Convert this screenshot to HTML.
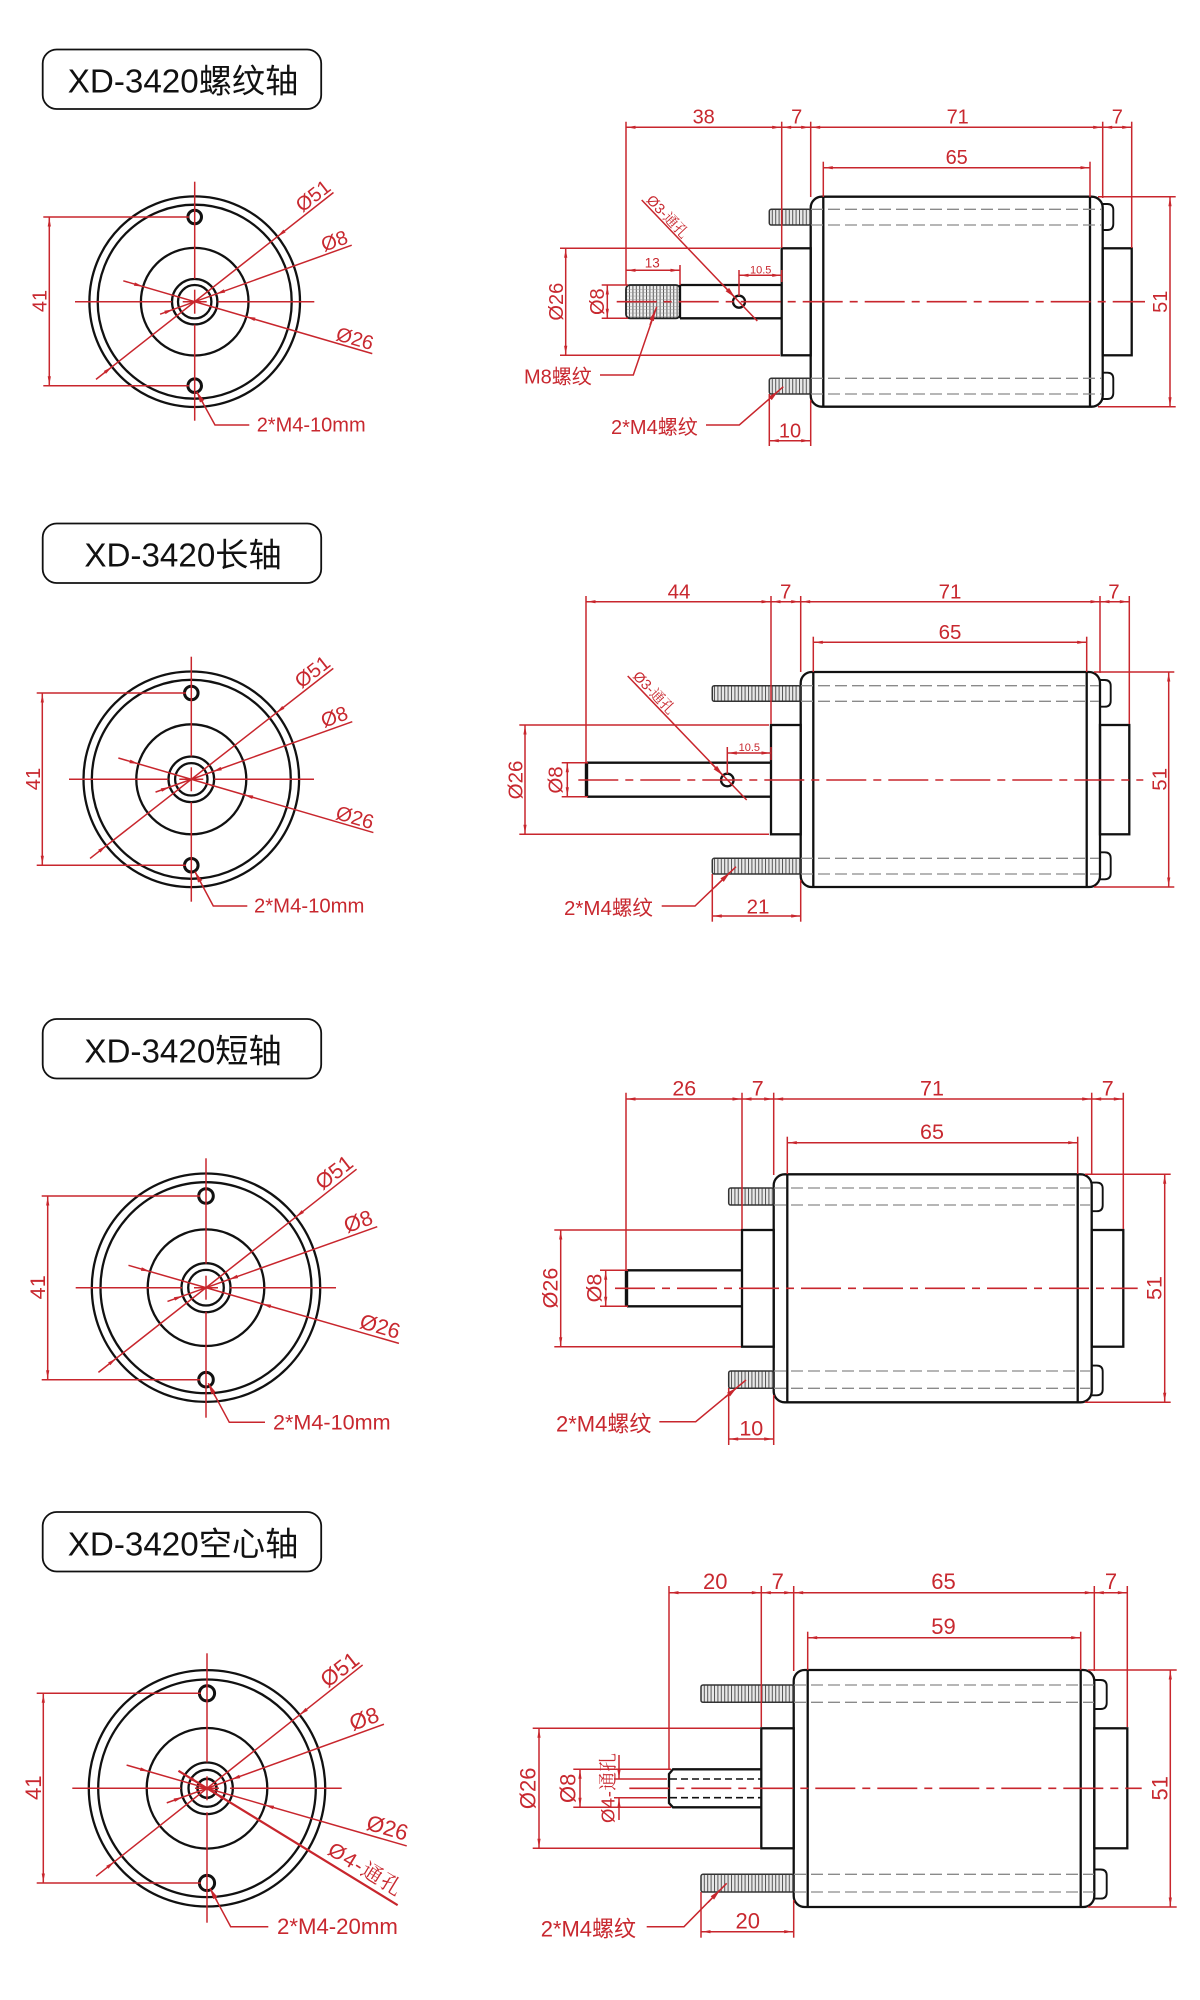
<!DOCTYPE html>
<html><head><meta charset="utf-8"><style>
html,body{margin:0;padding:0;background:#fff}
svg{display:block}
text{font-family:"Liberation Sans","Noto Sans CJK SC",sans-serif;fill:#c8282f;text-anchor:middle;stroke:none}
.h{fill:#111;font-size:33.2px}
.s{text-anchor:start}
.n{font-family:"Liberation Sans","Noto Serif CJK SC",serif}
.r line,.r polyline,line.r,polyline.r{stroke:#c8262d;stroke-width:1.5;fill:none}
.d{marker-start:url(#a);marker-end:url(#a)}
line.e{marker-end:url(#a)}
line.b{marker-end:url(#b)}
.c{stroke:#c8262d;stroke-width:1.6;fill:none;stroke-dasharray:40 7 8 7}
.k{stroke:#111;stroke-width:2.3;fill:none}
.g{stroke:#8a8a8a;stroke-width:1.3;stroke-dasharray:12 5;fill:none}
.th{fill:url(#t);stroke:#333;stroke-width:1.5}
.tx{fill:url(#x);stroke:#222;stroke-width:1.8}
.ah{fill:#c8262d;stroke:none}
.box{fill:#fff;stroke:#111;stroke-width:1.8}
</style></head><body>
<svg xmlns="http://www.w3.org/2000/svg" width="1200" height="2000" viewBox="0 0 1200 2000">
<defs>
<marker id="a" markerUnits="userSpaceOnUse" markerWidth="12" markerHeight="6" viewBox="0 0 12 6" refX="11" refY="3" orient="auto-start-reverse"><path d="M2,1.4L11,3L2,4.6z" fill="#c8262d"/></marker>
<marker id="b" markerUnits="userSpaceOnUse" markerWidth="14" markerHeight="8" viewBox="0 0 14 8" refX="13" refY="4" orient="auto"><path d="M2,1.6L13,4L2,6.4z" fill="#c8262d"/></marker>
<pattern id="t" patternUnits="userSpaceOnUse" width="3.4" height="4"><rect width="3.4" height="4" fill="#e8e8e8"/><rect width="1" height="4" fill="#555"/></pattern>
<pattern id="x" patternUnits="userSpaceOnUse" width="3.4" height="3.4"><rect width="3.4" height="3.4" fill="#f0f0f0"/><rect width="1" height="3.4" fill="#555"/><rect width="3.4" height=".5" fill="#999"/></pattern>
</defs>

<!-- titles -->
<rect class="box" x="42.7" y="49.5" width="278.5" height="59.5" rx="14"/><text class="h" x="183" y="92.7">XD-3420螺纹轴</text>
<rect class="box" x="42.7" y="523.5" width="278.5" height="59.5" rx="14"/><text class="h" x="183" y="566.7">XD-3420长轴</text>
<rect class="box" x="42.7" y="1019" width="278.5" height="59.5" rx="14"/><text class="h" x="183" y="1062.5">XD-3420短轴</text>
<rect class="box" x="42.7" y="1512" width="278.5" height="59.5" rx="14"/><text class="h" x="183" y="1555.5">XD-3420空心轴</text>

<!-- ========== PANEL 1 FRONT ========== -->
<g font-size="20">
<g class="k" transform="translate(194.7,301.7)"><circle r="105.3"/><circle r="97"/><circle r="53.8"/><circle r="22.7"/><circle r="16.7"/><circle cy="-84.7" r="6.8" stroke-width="3"/><circle cy="84" r="6.8" stroke-width="3"/></g>
<g class="r" transform="translate(194.7,301.7)">
<line y1="-120" y2="-23"/><line y1="-12" y2="12"/><line y1="23" y2="119"/>
<line x1="-119.7" x2="-23"/><line x1="-12" x2="12"/><line x1="23" x2="119.6"/>
<g transform="rotate(-38.2)"><line x1="-125.6" x2="176.6"/><path class="ah" d="M105.3,0l9,-1.8v3.6zM-105.3,0l-9,-1.8v3.6z"/></g>
<g transform="rotate(-19.8)"><line x1="-36.8" x2="166.9"/><path class="ah" d="M22.7,0l9,-1.8v3.6zM-22.7,0l-9,-1.8v3.6z"/></g>
<g transform="rotate(16.3)"><line x1="-74.4" x2="185"/><path class="ah" d="M53.8,0l9,-1.8v3.6zM-53.8,0l-9,-1.8v3.6z"/></g>
</g>
<g class="r"><line x1="43.3" y1="217" x2="189" y2="217"/><line x1="43.3" y1="385.7" x2="189" y2="385.7"/><line class="d" x1="49.3" y1="217.5" x2="49.3" y2="385.2"/>
<polyline points="249.3,425 215,425 196.7,391.7"/><line class="b" x1="203" y1="403" x2="196.7" y2="391.7"/></g>
<text transform="translate(46.7,301) rotate(-90)">41</text>
<text transform="translate(313,195.7) rotate(-38)" y="7">Ø51</text>
<text transform="translate(334.3,240.7) rotate(-20)" y="7">Ø8</text>
<text transform="translate(355,338.3) rotate(16)" y="7">Ø26</text>
<text class="s" x="256.7" y="431.7">2*M4-10mm</text>
</g>

<!-- ========== PANEL 1 SIDE ========== -->
<g font-size="20">
<rect class="tx" x="626" y="285" width="54" height="33.3" rx="4"/>
<g class="k">
<rect x="810.7" y="196.7" width="292" height="210" rx="11"/>
<line x1="823.3" y1="196.7" x2="823.3" y2="406.7"/><line x1="1090" y1="196.7" x2="1090" y2="406.7"/>
<rect x="781.7" y="248.3" width="29" height="107"/><rect x="1102.7" y="248.3" width="29" height="107"/>
<path d="M680,285H781.7M680,318.3H781.7M680,285V318.3"/>
<circle cx="739" cy="301.7" r="6"/>
<path stroke-width="1.9" d="M1102.7,204h4.6q6,0 6,6v14q0,6 -6,6h-4.6M1102.7,372.7h4.6q6,0 6,6v14.3q0,6 -6,6h-4.6"/>
</g>
<rect class="th" x="769.3" y="209.3" width="41.4" height="15.7" rx="2"/><rect class="th" x="769.3" y="378.3" width="41.4" height="15.7" rx="2"/>
<path class="g" d="M811,209.3H1102M811,225H1102M811,378.3H1102M811,394H1102"/>
<line class="c" x1="616.7" y1="301.7" x2="1145" y2="301.7"/>
<g class="r">
<line x1="626" y1="121.7" x2="626" y2="285"/><line x1="781.7" y1="121.7" x2="781.7" y2="248"/><line x1="810.7" y1="121.7" x2="810.7" y2="197"/><line x1="1102.7" y1="121.7" x2="1102.7" y2="198"/><line x1="1131.7" y1="121.7" x2="1131.7" y2="248"/>
<line class="d" x1="626.5" y1="127.3" x2="781.2" y2="127.3"/><line class="d" x1="782.2" y1="127.3" x2="810.2" y2="127.3"/><line class="d" x1="811.2" y1="127.3" x2="1102.2" y2="127.3"/><line class="d" x1="1103.2" y1="127.3" x2="1131.2" y2="127.3"/>
<line x1="823.3" y1="161.7" x2="823.3" y2="197"/><line x1="1090" y1="161.7" x2="1090" y2="197"/><line class="d" x1="823.8" y1="167.7" x2="1089.5" y2="167.7"/>
<line x1="560" y1="248.3" x2="780" y2="248.3"/><line x1="560" y1="355.3" x2="780" y2="355.3"/><line class="d" x1="565.7" y1="248.8" x2="565.7" y2="354.8"/>
<line x1="601.7" y1="285" x2="628" y2="285"/><line x1="601.7" y1="318.3" x2="628" y2="318.3"/><line class="d" x1="607.3" y1="285.5" x2="607.3" y2="317.8"/>
<line x1="680" y1="265" x2="680" y2="285"/><line class="d" x1="626.5" y1="270.3" x2="679.5" y2="270.3"/>
<line x1="739" y1="270" x2="739" y2="296"/><line x1="781.7" y1="270" x2="781.7" y2="282"/><line class="d" x1="739.5" y1="275.3" x2="781.2" y2="275.3"/>
<line x1="641.7" y1="200" x2="757.3" y2="321"/><line class="b" x1="722" y1="284" x2="735" y2="297.5"/>
<polyline points="600,375 633.3,375 656.7,306.7"/><line class="b" x1="650" y1="325" x2="655.3" y2="310"/>
<polyline points="706,425 739.3,425 783.3,386.7"/><line class="b" x1="770" y1="398.5" x2="778.3" y2="391"/>
<line x1="769.3" y1="394" x2="769.3" y2="446"/><line x1="810.7" y1="400" x2="810.7" y2="446"/><line class="d" x1="769.8" y1="440.7" x2="810.2" y2="440.7"/>
<line x1="1098" y1="196.7" x2="1175.7" y2="196.7"/><line x1="1098" y1="406.7" x2="1175.7" y2="406.7"/><line class="d" x1="1170" y1="197.2" x2="1170" y2="406.2"/>
</g>
<text x="703.7" y="123.3">38</text><text x="796.7" y="123.3">7</text><text x="957.7" y="123.3">71</text><text x="1117.3" y="123.3">7</text><text x="956.7" y="164">65</text>
<text transform="translate(563,301.7) rotate(-90)">Ø26</text><text transform="translate(604,301.7) rotate(-90)">Ø8</text>
<text x="652.3" y="267.3" font-size="13.5">13</text><text x="760.7" y="273.3" font-size="11">10.5</text>
<text class="n" transform="translate(664,220) rotate(46.3)" font-size="14.5">Ø3-通孔</text>
<text class="s" x="524" y="383.3">M8螺纹</text><text class="s" x="611" y="434">2*M4螺纹</text>
<text x="790" y="437.3">10</text><text transform="translate(1167,301.7) rotate(-90)">51</text>
</g>

<!-- ========== PANEL 2 FRONT ========== -->
<g font-size="20.3">
<g class="k" transform="translate(191.3,779.3)"><circle r="107.8"/><circle r="99.5"/><circle r="55"/><circle r="22.8"/><circle r="16.2"/><circle cy="-86.3" r="6.8" stroke-width="3"/><circle cy="86" r="6.8" stroke-width="3"/></g>
<g class="r" transform="translate(191.3,779.3)">
<line y1="-122.6" y2="-23"/><line y1="-12" y2="12"/><line y1="23" y2="122.4"/>
<line x1="-122.3" x2="-23"/><line x1="-12" x2="12"/><line x1="23" x2="122.7"/>
<g transform="rotate(-38)"><line x1="-128.5" x2="180.2"/><path class="ah" d="M107.8,0l9,-1.8v3.6zM-107.8,0l-9,-1.8v3.6z"/></g>
<g transform="rotate(-19.7)"><line x1="-38" x2="171"/><path class="ah" d="M22.8,0l9,-1.8v3.6zM-22.8,0l-9,-1.8v3.6z"/></g>
<g transform="rotate(16.3)"><line x1="-76" x2="189.7"/><path class="ah" d="M55,0l9,-1.8v3.6zM-55,0l-9,-1.8v3.6z"/></g>
</g>
<g class="r"><line x1="36.7" y1="693" x2="186" y2="693"/><line x1="36.7" y1="865.3" x2="186" y2="865.3"/><line class="d" x1="42.3" y1="693.5" x2="42.3" y2="864.8"/>
<polyline points="247.3,906 213.3,906 195,871.7"/><line class="b" x1="201" y1="883" x2="195" y2="871.7"/></g>
<text transform="translate(40,779) rotate(-90)">41</text>
<text transform="translate(312.3,671.7) rotate(-38)" y="7">Ø51</text>
<text transform="translate(334.3,716.7) rotate(-20)" y="7">Ø8</text>
<text transform="translate(355,817.3) rotate(16)" y="7">Ø26</text>
<text class="s" x="254" y="912.7">2*M4-10mm</text>
</g>

<!-- ========== PANEL 2 SIDE ========== -->
<g font-size="20.5">
<g class="k">
<rect x="800.7" y="672" width="299.3" height="215" rx="11"/>
<line x1="813.3" y1="672" x2="813.3" y2="887"/><line x1="1086.7" y1="672" x2="1086.7" y2="887"/>
<rect x="771" y="725" width="29.7" height="109.3"/><rect x="1100" y="725" width="29.3" height="109.3"/>
<path d="M587,762.7H771M587,796.7H771"/><line x1="586.5" y1="762" x2="586.5" y2="797.4" stroke-width="3.4"/>
<circle cx="727.3" cy="780" r="6.3"/>
<path stroke-width="1.9" d="M1100,680h4.7q6,0 6,6v14.7q0,6 -6,6h-4.7M1100,852.3h4.7q6,0 6,6v15q0,6 -6,6h-4.7"/>
</g>
<rect class="th" x="712.3" y="685.7" width="88.4" height="15.6" rx="2"/><rect class="th" x="712.3" y="858.3" width="88.4" height="15.7" rx="2"/>
<path class="g" d="M801,685.7H1099M801,701.3H1099M801,858.3H1099M801,874H1099"/>
<line class="c" x1="578.3" y1="780" x2="1143.3" y2="780"/>
<g class="r">
<line x1="586" y1="596" x2="586" y2="763"/><line x1="771" y1="596" x2="771" y2="724"/><line x1="800.7" y1="596" x2="800.7" y2="672"/><line x1="1100" y1="596" x2="1100" y2="673"/><line x1="1129.3" y1="596" x2="1129.3" y2="724"/>
<line class="d" x1="586.5" y1="601.7" x2="770.5" y2="601.7"/><line class="d" x1="771.5" y1="601.7" x2="800.2" y2="601.7"/><line class="d" x1="801.2" y1="601.7" x2="1099.5" y2="601.7"/><line class="d" x1="1100.5" y1="601.7" x2="1128.8" y2="601.7"/>
<line x1="813.3" y1="636.7" x2="813.3" y2="672"/><line x1="1086.7" y1="636.7" x2="1086.7" y2="672"/><line class="d" x1="813.8" y1="642.3" x2="1086.2" y2="642.3"/>
<line x1="519.3" y1="725" x2="769" y2="725"/><line x1="519.3" y1="834.3" x2="769" y2="834.3"/><line class="d" x1="525" y1="725.5" x2="525" y2="833.8"/>
<line x1="561.7" y1="762.7" x2="588" y2="762.7"/><line x1="561.7" y1="796.7" x2="588" y2="796.7"/><line class="d" x1="567.3" y1="763.2" x2="567.3" y2="796.2"/>
<line x1="727.3" y1="747" x2="727.3" y2="774"/><line x1="771" y1="747" x2="771" y2="760"/><line class="d" x1="727.8" y1="753" x2="770.5" y2="753"/>
<line x1="627.7" y1="676" x2="746.7" y2="800"/><line class="b" x1="710" y1="762" x2="723" y2="775.5"/>
<polyline points="661.7,906 695,906 736,866.7"/><line class="b" x1="715" y1="887" x2="730" y2="872.5"/>
<line x1="712.3" y1="874" x2="712.3" y2="921.7"/><line x1="800.7" y1="880" x2="800.7" y2="921.7"/><line class="d" x1="712.8" y1="916" x2="800.2" y2="916"/>
<line x1="1094" y1="672" x2="1174.3" y2="672"/><line x1="1094" y1="887" x2="1174.3" y2="887"/><line class="d" x1="1168.7" y1="672.5" x2="1168.7" y2="886.5"/>
</g>
<text x="679" y="598.3">44</text><text x="785.7" y="598.3">7</text><text x="950" y="598.3">71</text><text x="1114" y="598.3">7</text><text x="950" y="639">65</text>
<text transform="translate(522.3,780) rotate(-90)">Ø26</text><text transform="translate(562.7,780) rotate(-90)">Ø8</text>
<text x="749.3" y="751" font-size="11">10.5</text>
<text class="n" transform="translate(650.5,696) rotate(46.2)" font-size="14.5">Ø3-通孔</text>
<text class="s" x="564" y="915">2*M4螺纹</text><text x="758" y="913.3">21</text>
<text transform="translate(1166.7,779.3) rotate(-90)">51</text>
</g>

<!-- ========== PANEL 3 FRONT ========== -->
<g font-size="21.6">
<g class="k" transform="translate(206,1287.7)"><circle r="114.2"/><circle r="105.5"/><circle r="58.3"/><circle r="24.5"/><circle r="17.8"/><circle cy="-91.7" r="7.3" stroke-width="3"/><circle cy="92" r="7.3" stroke-width="3"/></g>
<g class="r" transform="translate(206,1287.7)">
<line y1="-129.4" y2="-24"/><line y1="-12" y2="12"/><line y1="24" y2="130"/>
<line x1="-130.3" x2="-24"/><line x1="-12" x2="12"/><line x1="24" x2="130"/>
<g transform="rotate(-38.2)"><line x1="-136.9" x2="191.6"/><path class="ah" d="M114.2,0l9,-1.8v3.6zM-114.2,0l-9,-1.8v3.6z"/></g>
<g transform="rotate(-19.6)"><line x1="-40.9" x2="181.8"/><path class="ah" d="M24.5,0l9,-1.8v3.6zM-24.5,0l-9,-1.8v3.6z"/></g>
<g transform="rotate(16.1)"><line x1="-80.7" x2="200.8"/><path class="ah" d="M58.3,0l9,-1.8v3.6zM-58.3,0l-9,-1.8v3.6z"/></g>
</g>
<g class="r"><line x1="41.7" y1="1196" x2="200" y2="1196"/><line x1="41.7" y1="1379.7" x2="200" y2="1379.7"/><line class="d" x1="47.7" y1="1196.5" x2="47.7" y2="1379.2"/>
<polyline points="265,1422.3 229.3,1422.3 208.3,1383.3"/><line class="b" x1="215" y1="1396" x2="208.3" y2="1383.3"/></g>
<text transform="translate(45,1287.3) rotate(-90)">41</text>
<text transform="translate(334.3,1172.7) rotate(-38)" y="7">Ø51</text>
<text transform="translate(358.3,1221.7) rotate(-20)" y="7">Ø8</text>
<text transform="translate(380,1326.7) rotate(16)" y="7">Ø26</text>
<text class="s" x="273" y="1429.3">2*M4-10mm</text>
</g>

<!-- ========== PANEL 3 SIDE ========== -->
<g font-size="21.5">
<g class="k">
<rect x="773.7" y="1174.3" width="318" height="228" rx="11"/>
<line x1="787.3" y1="1174.3" x2="787.3" y2="1402.3"/><line x1="1077.7" y1="1174.3" x2="1077.7" y2="1402.3"/>
<rect x="742" y="1230" width="31.7" height="116.7"/><rect x="1091.7" y="1230" width="31.6" height="116.7"/>
<path d="M627,1270.3H742M627,1306.3H742"/><line x1="626.5" y1="1269.6" x2="626.5" y2="1307" stroke-width="3.4"/>
<path stroke-width="1.9" d="M1091.7,1182.6h5q6,0 6,6v16.6q0,6 -6,6h-5M1091.7,1365.6h5q6,0 6,6v17.7q0,6 -6,6h-5"/>
</g>
<rect class="th" x="728.7" y="1188" width="45" height="17" rx="2"/><rect class="th" x="728.7" y="1371" width="45" height="17.3" rx="2"/>
<path class="g" d="M774,1188H1091M774,1205H1091M774,1371H1091M774,1388.3H1091"/>
<line class="c" x1="615" y1="1288.3" x2="1137.7" y2="1288.3"/>
<g class="r">
<line x1="626" y1="1092.7" x2="626" y2="1270"/><line x1="742" y1="1092.7" x2="742" y2="1229"/><line x1="773.7" y1="1092.7" x2="773.7" y2="1175"/><line x1="1091.7" y1="1092.7" x2="1091.7" y2="1175"/><line x1="1123.3" y1="1092.7" x2="1123.3" y2="1229"/>
<line class="d" x1="626.5" y1="1099" x2="741.5" y2="1099"/><line class="d" x1="742.5" y1="1099" x2="773.2" y2="1099"/><line class="d" x1="774.2" y1="1099" x2="1091.2" y2="1099"/><line class="d" x1="1092.2" y1="1099" x2="1122.8" y2="1099"/>
<line x1="787.3" y1="1136.7" x2="787.3" y2="1174"/><line x1="1077.7" y1="1136.7" x2="1077.7" y2="1174"/><line class="d" x1="787.8" y1="1142.7" x2="1077.2" y2="1142.7"/>
<line x1="554.3" y1="1230" x2="741" y2="1230"/><line x1="554.3" y1="1346.7" x2="741" y2="1346.7"/><line class="d" x1="560.7" y1="1230.5" x2="560.7" y2="1346.2"/>
<line x1="600" y1="1270.3" x2="628" y2="1270.3"/><line x1="600" y1="1306.3" x2="628" y2="1306.3"/><line class="d" x1="605.7" y1="1270.8" x2="605.7" y2="1305.8"/>
<polyline points="659.3,1421.7 695.7,1421.7 746,1380"/><line class="b" x1="725" y1="1397.5" x2="737" y2="1387.5"/>
<line x1="728.7" y1="1388" x2="728.7" y2="1445"/><line x1="773.7" y1="1395" x2="773.7" y2="1445"/><line class="d" x1="729.2" y1="1439" x2="773.2" y2="1439"/>
<line x1="1085" y1="1174.3" x2="1170.7" y2="1174.3"/><line x1="1085" y1="1402.3" x2="1170.7" y2="1402.3"/><line class="d" x1="1164.7" y1="1174.8" x2="1164.7" y2="1401.8"/>
</g>
<text x="684.3" y="1095.7">26</text><text x="757.7" y="1095.7">7</text><text x="932" y="1095.7">71</text><text x="1107.7" y="1095.7">7</text><text x="932" y="1139">65</text>
<text transform="translate(557.7,1288) rotate(-90)">Ø26</text><text transform="translate(601.7,1288) rotate(-90)">Ø8</text>
<text class="s" x="556" y="1431.7" font-size="22">2*M4螺纹</text><text x="751.3" y="1435.7">10</text>
<text transform="translate(1161.7,1288) rotate(-90)">51</text>
</g>

<!-- ========== PANEL 4 FRONT ========== -->
<g font-size="22.2">
<g class="k" transform="translate(207,1788.3)"><circle r="118.2"/><circle r="108.8"/><circle r="60.3"/><circle r="25.8"/><circle r="18.5"/><circle r="9.5" stroke-width="2.6"/><circle cy="-95" r="7.6" stroke-width="3"/><circle cy="94.7" r="7.6" stroke-width="3"/></g>
<g class="r" transform="translate(207,1788.3)">
<line y1="-135" y2="-26"/><line y1="-12" y2="12"/><line y1="24" y2="134.4"/>
<line x1="-134.7" x2="-26"/><line x1="-12" x2="12"/><line x1="23" x2="134.7"/>
<g transform="rotate(-38.4)"><line x1="-141.5" x2="198.6"/><path class="ah" d="M118.2,0l9,-1.8v3.6zM-118.2,0l-9,-1.8v3.6z"/></g>
<g transform="rotate(-19.9)"><line x1="-42.8" x2="188.2"/><path class="ah" d="M25.8,0l9,-1.8v3.6zM-25.8,0l-9,-1.8v3.6z"/></g>
<g transform="rotate(16.1)"><line x1="-83.7" x2="207.9"/><path class="ah" d="M60.3,0l9,-1.8v3.6zM-60.3,0l-9,-1.8v3.6z"/></g>
<g transform="rotate(31.5)"><line x1="-33.5" x2="223.6" style="stroke-width:2.2"/><path class="ah" d="M9.5,0l9,-1.8v3.6zM-9.5,0l-9,-1.8v3.6z"/></g>
</g>
<g class="r"><line x1="36.7" y1="1693.3" x2="201" y2="1693.3"/><line x1="36.7" y1="1883" x2="201" y2="1883"/><line class="d" x1="43.3" y1="1693.8" x2="43.3" y2="1882.5"/>
<polyline points="268.3,1926.7 230.7,1926.7 210,1888.3"/><line class="b" x1="217" y1="1901" x2="210" y2="1888.3"/></g>
<text transform="translate(41,1787.7) rotate(-90)">41</text>
<text transform="translate(340,1670) rotate(-38)" y="7">Ø51</text>
<text transform="translate(364.3,1719.3) rotate(-20)" y="7">Ø8</text>
<text transform="translate(387.3,1828.3) rotate(16)" y="7">Ø26</text>
<text class="n" transform="translate(365,1869) rotate(31.5)" y="7" font-size="21" textLength="82" lengthAdjust="spacing">Ø4-通孔</text>
<text class="s" x="277" y="1934">2*M4-20mm</text>
</g>

<!-- ========== PANEL 4 SIDE ========== -->
<g font-size="22">
<g class="k">
<rect x="793.7" y="1670" width="300.6" height="237" rx="11"/>
<line x1="807.7" y1="1670" x2="807.7" y2="1907"/><line x1="1080.7" y1="1670" x2="1080.7" y2="1907"/>
<rect x="761.3" y="1728.3" width="32.4" height="120"/><rect x="1094.3" y="1728.3" width="33" height="120"/>
<path d="M761.3,1769.3H673L669,1774V1803L673,1807.3H761.3"/>
<path stroke-width="1.9" d="M1094.3,1680h6.4q6,0 6,6v17q0,6 -6,6h-6.4M1094.3,1869.5h6.4q6,0 6,6v17.1q0,6 -6,6h-6.4"/>
<path d="M670,1779H761M670,1797.7H761" stroke-width="1.6" stroke-dasharray="7 4"/>
</g>
<rect class="th" x="701" y="1685" width="92.7" height="17.3" rx="2"/><rect class="th" x="701" y="1874.3" width="92.7" height="17.7" rx="2"/>
<path class="g" d="M794,1685H1094M794,1702.3H1094M794,1874.3H1094M794,1892H1094"/>
<line class="c" x1="629.3" y1="1788.3" x2="1141.7" y2="1788.3"/>
<g class="r">
<line x1="669" y1="1586" x2="669" y2="1769"/><line x1="761.3" y1="1586" x2="761.3" y2="1727"/><line x1="793.7" y1="1586" x2="793.7" y2="1671"/><line x1="1094.3" y1="1586" x2="1094.3" y2="1671"/><line x1="1127.3" y1="1586" x2="1127.3" y2="1727"/>
<line class="d" x1="669.5" y1="1592.7" x2="760.8" y2="1592.7"/><line class="d" x1="761.8" y1="1592.7" x2="793.2" y2="1592.7"/><line class="d" x1="794.2" y1="1592.7" x2="1093.8" y2="1592.7"/><line class="d" x1="1094.8" y1="1592.7" x2="1126.8" y2="1592.7"/>
<line x1="807.7" y1="1631.7" x2="807.7" y2="1670"/><line x1="1080.7" y1="1631.7" x2="1080.7" y2="1670"/><line class="d" x1="808.2" y1="1637.7" x2="1080.2" y2="1637.7"/>
<line x1="532.7" y1="1728.3" x2="760" y2="1728.3"/><line x1="532.7" y1="1848.3" x2="760" y2="1848.3"/><line class="d" x1="539" y1="1728.8" x2="539" y2="1847.8"/>
<line x1="573.3" y1="1769.3" x2="671" y2="1769.3"/><line x1="573.3" y1="1807.3" x2="671" y2="1807.3"/><line class="d" x1="580" y1="1769.8" x2="580" y2="1806.8"/>
<line x1="614" y1="1779" x2="667" y2="1779"/><line x1="614" y1="1797.7" x2="667" y2="1797.7"/><line class="e" x1="619" y1="1755" x2="619" y2="1778.5"/><line class="e" x1="619" y1="1820" x2="619" y2="1798.2"/>
<polyline points="646.7,1926.7 684,1926.7 726.7,1883.3"/><line class="b" x1="708" y1="1902.5" x2="720" y2="1890"/>
<line x1="701" y1="1892" x2="701" y2="1937.7"/><line x1="793.7" y1="1900" x2="793.7" y2="1937.7"/><line class="d" x1="701.5" y1="1931.7" x2="793.2" y2="1931.7"/>
<line x1="1088" y1="1670" x2="1176.7" y2="1670"/><line x1="1088" y1="1907" x2="1176.7" y2="1907"/><line class="d" x1="1170.3" y1="1670.5" x2="1170.3" y2="1906.5"/>
</g>
<text x="715.3" y="1589">20</text><text x="777.7" y="1589">7</text><text x="943.5" y="1589">65</text><text x="1111" y="1589">7</text><text x="943.5" y="1634">59</text>
<text transform="translate(535.7,1788.3) rotate(-90)">Ø26</text><text transform="translate(575.7,1788.3) rotate(-90)">Ø8</text>
<text class="n" transform="translate(614.3,1788) rotate(-90)" font-size="18.5" textLength="70" lengthAdjust="spacing">Ø4-通孔</text>
<text class="s" x="540.7" y="1936.7">2*M4螺纹</text><text x="747.7" y="1928.3">20</text>
<text transform="translate(1167.3,1788.3) rotate(-90)">51</text>
</g>
</svg>
</body></html>
